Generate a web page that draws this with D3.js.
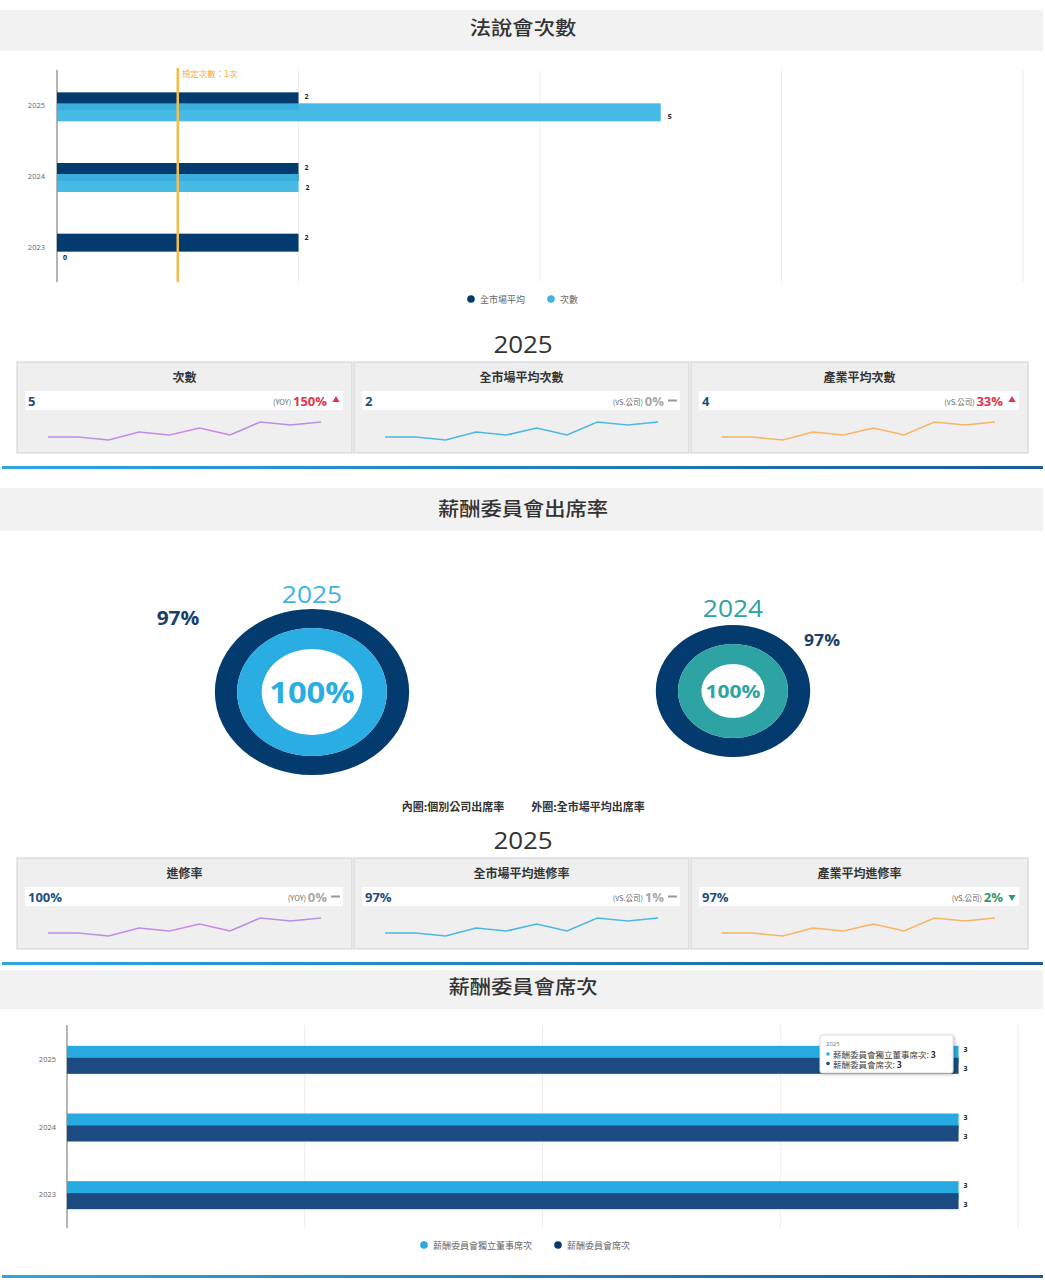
<!DOCTYPE html>
<html><head><meta charset="utf-8">
<script src="https://cdn.jsdelivr.net/npm/d3@7"></script>
<style>
body{margin:0;background:#fff;font-family:"Open Sans","Noto Sans CJK TC",sans-serif;}
svg{display:block}
</style></head>
<body>
<svg id="c" width="1045" height="1285"></svg>
<script>
// ---------- DATA ----------
const years = ["2025","2024","2023"];
const meetMarketAvg = [2,2,2];      // 全市場平均
const meetCount = [5,2,0];          // 次數
const meetTicks = [2,4,6,8];
const requiredCount = 1;

const cards1Title = "2025";
const cards1 = [
  {title:"次數", value:"5", tag:"(YOY)", pct:"150%", dir:"up"},
  {title:"全市場平均次數", value:"2", tag:"(vS.公司)", pct:"0%", dir:"flat"},
  {title:"產業平均次數", value:"4", tag:"(vS.公司)", pct:"33%", dir:"up"}
];
const sparkValues = [3,3,0,8,5,12,5,18,15,18];

const donutYears = ["2025","2024"];
const donutInner = [100,100];   // 個別公司出席率
const donutOuter = [97,97];     // 全市場平均出席率
const donutLegend = ["內圈:個別公司出席率","外圈:全市場平均出席率"];

const cards2Title = "2025";
const cards2 = [
  {title:"進修率", value:"100%", tag:"(YOY)", pct:"0%", dir:"flat"},
  {title:"全市場平均進修率", value:"97%", tag:"(vS.公司)", pct:"1%", dir:"flat"},
  {title:"產業平均進修率", value:"97%", tag:"(vS.公司)", pct:"2%", dir:"down"}
];

const seatIndep = [3,3,3];   // 薪酬委員會獨立董事席次
const seatTotal = [3,3,3];   // 薪酬委員會席次
const seatTicks = [0.8,1.6,2.4,3.2];

const svg = d3.select("#c");
const CJK = '"Noto Sans CJK TC","Open Sans",sans-serif';

const defs = svg.append("defs");
const g = defs.append("linearGradient").attr("id","sep");
g.append("stop").attr("offset","0%").attr("stop-color","#2aa8dc");
g.append("stop").attr("offset","100%").attr("stop-color","#1a5b9c");
const sh = defs.append("filter").attr("id","shadow").attr("x","-10%").attr("y","-20%").attr("width","130%").attr("height","150%");
sh.append("feDropShadow").attr("dx",1).attr("dy",1).attr("stdDeviation",1.5).attr("flood-color","#000").attr("flood-opacity",0.3);

function header(y0,y1,ty,title){
  svg.append("rect").attr("x",0).attr("y",y0).attr("width",1043).attr("height",y1-y0).attr("fill","#f2f2f2");
  svg.append("text").attr("transform",`translate(523,${ty}) scale(1.12,1)`).attr("text-anchor","middle").attr("dominant-baseline","central")
    .attr("font-family",CJK).attr("font-size",19).attr("font-weight",500).attr("fill","#333").text(title);
}
function separator(y){
  svg.append("rect").attr("x",2).attr("y",y).attr("width",1041).attr("height",3).attr("fill","url(#sep)");
}

// ---------- SECTION 1 ----------
header(10,51,27,"法說會次數");
{
  const x = d3.scaleLinear().domain([0,8]).range([57,1023]);
  const y = d3.scaleBand().domain(years).range([70,282]);
  const bw = y.bandwidth();
  const gr = svg.append("g");
  gr.selectAll(".gl").data(meetTicks).join("line").attr("x1",d=>x(d)).attr("x2",d=>x(d))
    .attr("y1",70).attr("y2",282).attr("stroke","#ececec").attr("stroke-width",1);
  gr.append("line").attr("x1",x(0)).attr("x2",x(0)).attr("y1",70).attr("y2",282).attr("stroke","#b5b5b5").attr("stroke-width",2);
  gr.selectAll(".yl").data(years).join("text").attr("x",45).attr("y",d=>y(d)+bw/2).attr("text-anchor","end")
    .attr("dominant-baseline","central").attr("font-size",7.5).attr("fill","#666").text(d=>d);
  gr.selectAll(".bd").data(years).join("rect").attr("x",x(0)).attr("y",d=>y(d)+bw/2-13)
    .attr("width",(d,i)=>x(meetMarketAvg[i])-x(0)).attr("height",18).attr("fill","#033b6e");
  gr.selectAll(".bl").data(years).join("rect").attr("x",x(0)).attr("y",d=>y(d)+bw/2-2)
    .attr("width",(d,i)=>x(meetCount[i])-x(0)).attr("height",18).attr("fill","#3db5e4").attr("opacity",0.95);
  gr.selectAll(".ld").data(years).join("text").attr("x",(d,i)=>x(meetMarketAvg[i])+6).attr("y",d=>y(d)+bw/2-9)
    .attr("dominant-baseline","central").attr("font-size",7).attr("font-weight",700).attr("fill","#222").text((d,i)=>meetMarketAvg[i]);
  gr.selectAll(".ll").data(years).join("text").attr("x",(d,i)=>x(meetCount[i])+(meetCount[i]===0?6:7)).attr("y",d=>y(d)+bw/2+11)
    .attr("dominant-baseline","central").attr("font-size",7).attr("font-weight",700).attr("fill","#222").text((d,i)=>meetCount[i]);
  gr.append("line").attr("x1",x(requiredCount)).attr("x2",x(requiredCount)).attr("y1",68).attr("y2",282)
    .attr("stroke","#f7bd4a").attr("stroke-width",2.5);
  gr.append("text").attr("x",x(requiredCount)+4).attr("y",73).attr("dominant-baseline","central")
    .attr("font-family",CJK).attr("font-size",8.5).attr("fill","#f5ae3a").text("規定次數："+requiredCount+"次");
  const lg = [{c:"#033b6e",t:"全市場平均",x:471},{c:"#3db5e4",t:"次數",x:551}];
  lg.forEach(l=>{
    gr.append("circle").attr("cx",l.x).attr("cy",299).attr("r",3.8).attr("fill",l.c);
    gr.append("text").attr("x",l.x+9).attr("y",299).attr("dominant-baseline","central").attr("font-family",CJK)
      .attr("font-size",9).attr("fill","#666").text(l.t);
  });
}

// ---------- CARDS ----------
const sparkColors = ["#bf8ce6","#4db7e2","#f8b466"];
const cardX = [17,354,691], cardW = [335,335,337];
function cards(top, title, data){
  svg.append("text").attr("transform",`translate(523,${top-19}) scale(1.08,1)`).attr("text-anchor","middle").attr("dominant-baseline","central")
    .attr("font-size",24).attr("fill","#333").text(title);
  data.forEach((c,i)=>{
    const x0 = cardX[i], w = cardW[i];
    const gg = svg.append("g");
    gg.append("rect").attr("x",x0).attr("y",top).attr("width",w).attr("height",91).attr("fill","#efefef")
      .attr("stroke","#cfcfcf").attr("stroke-width",1);
    gg.append("text").attr("x",x0+w/2).attr("y",top+14).attr("text-anchor","middle").attr("dominant-baseline","central")
      .attr("font-family",CJK).attr("font-size",12).attr("font-weight",600).attr("fill","#333").text(c.title);
    gg.append("rect").attr("x",x0+8).attr("y",top+29).attr("width",w-17).attr("height",19).attr("fill","#fff");
    gg.append("text").attr("x",x0+11).attr("y",top+38.5).attr("dominant-baseline","central")
      .attr("font-size",13).attr("font-weight",700).attr("fill","#1d4e7c").text(c.value);
    const col = c.dir==="up"?"#e5334b":(c.dir==="down"?"#2f9a6a":"#a8a8a8");
    const right = x0+w-12;
    if(c.dir==="up"){
      gg.append("path").attr("d",d3.symbol(d3.symbolTriangle,22)()).attr("transform",`translate(${right-4},${top+38})`).attr("fill",col);
    } else if(c.dir==="down"){
      gg.append("path").attr("d",d3.symbol(d3.symbolTriangle,22)()).attr("transform",`translate(${right-4},${top+39}) rotate(180)`).attr("fill",col);
    } else {
      gg.append("rect").attr("x",right-9).attr("y",top+37.5).attr("width",9).attr("height",2).attr("fill","#999");
    }
    const pt = gg.append("text").attr("x",right-13).attr("y",top+38.5).attr("text-anchor","end").attr("dominant-baseline","central");
    pt.append("tspan").attr("font-family",CJK).attr("font-size",7.5).attr("fill","#666").text(c.tag+" ");
    pt.append("tspan").attr("font-size",13).attr("font-weight",700).attr("fill",col).text(c.pct);
    const sx = d3.scaleLinear().domain([0,sparkValues.length-1]).range([x0+31,x0+304]);
    const sy = d3.scaleLinear().domain([0,18]).range([top+78,top+60]);
    gg.append("path").datum(sparkValues).attr("d",d3.line().x((d,j)=>sx(j)).y(d=>sy(d)))
      .attr("fill","none").attr("stroke",sparkColors[i]).attr("stroke-width",1.6);
  });
}
cards(362, cards1Title, cards1);
separator(466);

// ---------- SECTION 2 ----------
header(488,531,508,"薪酬委員會出席率");
{
  const cfg = [
    {cx:312,cy:692,ro:83,rm:64,ri:43,inC:"#29ade2",yl:"#3fb4e4",lblFs:28,yy:593,pl:[178,618],plFs:19},
    {cx:733,cy:691,ro:66,rm:47,ri:27,inC:"#2ea3a3",yl:"#2ea3a3",lblFs:18,yy:607,pl:[822,640],plFs:16}
  ];
  donutYears.forEach((yr,i)=>{
    const c = cfg[i];
    const gg = svg.append("g").attr("transform",`translate(${c.cx},${c.cy}) scale(1.17,1)`);
    const outerArc = d3.arc().innerRadius(c.rm).outerRadius(c.ro).startAngle(0);
    const innerArc = d3.arc().innerRadius(c.ri).outerRadius(c.rm).startAngle(0);
    gg.append("path").attr("d",outerArc({endAngle:2*Math.PI*Math.max(donutOuter[i],100)/100})).attr("fill","#033b6e");
    gg.append("path").attr("d",innerArc({endAngle:2*Math.PI*donutInner[i]/100})).attr("fill",c.inC);
    gg.append("text").attr("x",0).attr("y",0).attr("text-anchor","middle").attr("dominant-baseline","central")
      .attr("font-size",c.lblFs).attr("font-weight",700).attr("fill",c.inC).text(donutInner[i]+"%");
    svg.append("text").attr("transform",`translate(${c.cx},${c.yy}) scale(1.1,1)`).attr("text-anchor","middle").attr("dominant-baseline","central")
      .attr("font-size",24).attr("fill",c.yl).text(yr);
    svg.append("text").attr("transform",`translate(${c.pl[0]},${c.pl[1]}) scale(1.1,1)`).attr("text-anchor","middle").attr("dominant-baseline","central")
      .attr("font-size",c.plFs).attr("font-weight",700).attr("fill","#1b3f6b").text(donutOuter[i]+"%");
  });
  [[453,donutLegend[0]],[588,donutLegend[1]]].forEach(d=>{
    svg.append("text").attr("x",d[0]).attr("y",806).attr("text-anchor","middle").attr("dominant-baseline","central")
      .attr("font-family",CJK).attr("font-size",11).attr("font-weight",700).attr("fill","#333").text(d[1]);
  });
}
cards(858, cards2Title, cards2);
separator(962);

// ---------- SECTION 3 ----------
header(970,1009,986,"薪酬委員會席次");
{
  const x = d3.scaleLinear().domain([0,3.2]).range([67,1018]);
  const y = d3.scaleBand().domain(years).range([1025,1228]);
  const bw = y.bandwidth();
  const gr = svg.append("g");
  gr.selectAll(".gl").data(seatTicks).join("line").attr("x1",d=>x(d)).attr("x2",d=>x(d))
    .attr("y1",1025).attr("y2",1228).attr("stroke","#ececec");
  gr.append("line").attr("x1",x(0)).attr("x2",x(0)).attr("y1",1025).attr("y2",1228).attr("stroke","#b5b5b5").attr("stroke-width",2);
  gr.selectAll(".yl").data(years).join("text").attr("x",56).attr("y",d=>y(d)+bw/2).attr("text-anchor","end")
    .attr("dominant-baseline","central").attr("font-size",7.5).attr("fill","#666").text(d=>d);
  gr.selectAll(".bl").data(years).join("rect").attr("x",x(0)).attr("y",d=>y(d)+bw/2-13)
    .attr("width",(d,i)=>x(seatIndep[i])-x(0)).attr("height",18).attr("fill","#27aae1");
  gr.selectAll(".bd").data(years).join("rect").attr("x",x(0)).attr("y",d=>y(d)+bw/2-1)
    .attr("width",(d,i)=>x(seatTotal[i])-x(0)).attr("height",16).attr("fill","#1b4b81");
  gr.selectAll(".ll").data(years).join("text").attr("x",(d,i)=>x(seatIndep[i])+5).attr("y",d=>y(d)+bw/2-9)
    .attr("dominant-baseline","central").attr("font-size",7).attr("font-weight",700).attr("fill","#222").text((d,i)=>seatIndep[i]);
  gr.selectAll(".ld").data(years).join("text").attr("x",(d,i)=>x(seatTotal[i])+5).attr("y",d=>y(d)+bw/2+10)
    .attr("dominant-baseline","central").attr("font-size",7).attr("font-weight",700).attr("fill","#222").text((d,i)=>seatTotal[i]);
  const tt = gr.append("g").attr("transform","translate(820,1035)");
  tt.append("rect").attr("width",133).attr("height",38).attr("rx",2).attr("fill","#fff").attr("stroke","#ddd").attr("filter","url(#shadow)");
  tt.append("text").attr("x",6).attr("y",9).attr("dominant-baseline","central").attr("font-size",6).attr("fill","#777").text(years[0]);
  tt.append("circle").attr("cx",8).attr("cy",19).attr("r",1.8).attr("fill","#27aae1");
  tt.append("text").attr("x",13).attr("y",19).attr("dominant-baseline","central").attr("font-family",CJK).attr("font-size",8.5).attr("fill","#444")
    .text("薪酬委員會獨立董事席次: ").append("tspan").attr("font-weight",700).attr("fill","#222").text(seatIndep[0]);
  tt.append("circle").attr("cx",8).attr("cy",28.5).attr("r",1.8).attr("fill","#1b4b81");
  tt.append("text").attr("x",13).attr("y",28.5).attr("dominant-baseline","central").attr("font-family",CJK).attr("font-size",8.5).attr("fill","#444")
    .text("薪酬委員會席次: ").append("tspan").attr("font-weight",700).attr("fill","#222").text(seatTotal[0]);
  const lg = [{c:"#27aae1",t:"薪酬委員會獨立董事席次",x:424},{c:"#033b6e",t:"薪酬委員會席次",x:558}];
  lg.forEach(l=>{
    gr.append("circle").attr("cx",l.x).attr("cy",1245).attr("r",3.8).attr("fill",l.c);
    gr.append("text").attr("x",l.x+9).attr("y",1245).attr("dominant-baseline","central").attr("font-family",CJK)
      .attr("font-size",9).attr("fill","#666").text(l.t);
  });
}
separator(1275);
</script>
</body></html>
